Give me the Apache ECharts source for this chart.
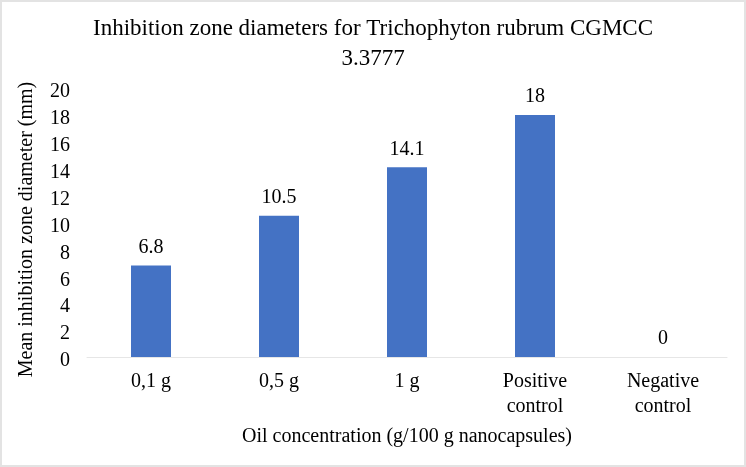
<!DOCTYPE html>
<html>
<head>
<meta charset="utf-8">
<script src="https://cdn.jsdelivr.net/npm/echarts@6/dist/echarts.min.js"></script>
<style>
html,body{margin:0;padding:0;background:#fff;}
#c{width:746px;height:467px;box-sizing:border-box;border:2px solid #e3e3e3;}
</style>
</head>
<body>
<div id="c"></div>
<script>
const categories = ['0,1 g', '0,5 g', '1 g', 'Positive\ncontrol', 'Negative\ncontrol'];
const values = [6.8, 10.5, 14.1, 18, 0];
const yTicks = { min: 0, max: 20, interval: 2 };
const titleText = 'Inhibition zone diameters for Trichophyton rubrum CGMCC\n3.3777';
const xName = 'Oil concentration (g/100 g nanocapsules)';
const yName = 'Mean inhibition zone diameter (mm)';

const font = '"Liberation Serif", "Times New Roman", serif';
const chart = echarts.init(document.getElementById('c'), null, {renderer: 'canvas'});
chart.setOption({
  animation: false,
  backgroundColor: '#fff',
  textStyle: { fontFamily: font },
  title: {
    text: titleText,
    left: 'center',
    top: 7,
    textStyle: { fontFamily: font, fontSize: 23, fontWeight: 'normal', color: '#000', lineHeight: 30 }
  },
  grid: { left: 85, right: 17, top: 86, bottom: 108, containLabel: false },
  xAxis: {
    type: 'category',
    data: categories,
    name: xName,
    nameLocation: 'middle',
    nameGap: 70,
    nameTextStyle: { fontFamily: font, fontSize: 20, color: '#000' },
    axisLine: { lineStyle: { color: '#e6e6e6', width: 1 } },
    axisTick: { show: false },
    axisLabel: { fontFamily: font, fontSize: 20, color: '#000', margin: 12, lineHeight: 25, interval: 0 }
  },
  yAxis: {
    type: 'value',
    min: yTicks.min, max: yTicks.max, interval: yTicks.interval,
    name: yName,
    nameLocation: 'middle',
    nameGap: 50,
    nameTextStyle: { fontFamily: font, fontSize: 20, color: '#000', padding: [0, 14, 0, 0] },
    axisLine: { show: false },
    axisTick: { show: false },
    splitLine: { show: false },
    axisLabel: { fontFamily: font, fontSize: 20, color: '#000', margin: 17, verticalAlign: 'top', lineHeight: 8 }
  },
  series: [{
    type: 'bar',
    data: values,
    barWidth: 40,
    itemStyle: { color: '#4472C4' },
    label: {
      show: true,
      position: 'top',
      distance: 8,
      fontFamily: font,
      fontSize: 20,
      color: '#000'
    }
  }]
});
</script>
</body>
</html>
